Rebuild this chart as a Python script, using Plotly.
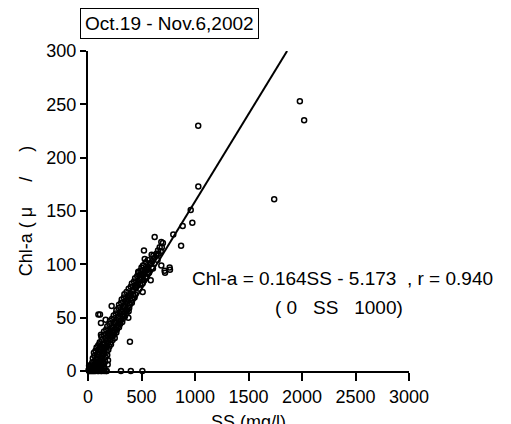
import plotly.graph_objects as go

# ---- data ----
ss_values = [
    # outliers / high values
    1030, 1980, 2020, 1740, 1031, 960, 975, 885, 797, 870, 623, 700, 685, 690, 670, 654, 640, 650,
    611, 595, 523, 530, 514, 592, 607, 685, 716, 763, 545, 498, 561, 483, 470, 564, 586, 523, 486,
    449, 511, 424, 393, 766, 720,
    # points on the zero line
    10, 19, 30, 40, 50, 60, 70, 90, 100, 120, 130, 150, 168, 175, 308, 400, 508,
    # low outliers
    97, 112, 121, 165, 221, 206, 392, 377, 184, 187, 106, 100, 121,
    # dense band, Chl 0-10
    5, 15, 25, 35, 45, 55, 65, 75, 85, 95, 105, 115, 125, 135, 145, 155, 30, 40, 50, 60, 70, 80,
    90, 100, 110, 120, 130, 140, 150, 160, 20, 10,
    # Chl 10-25
    45, 60, 75, 90, 105, 120, 135, 150, 165, 180, 55, 70, 85, 100, 115, 130, 145, 160, 175, 190,
    80, 95, 110, 125, 140, 155, 170, 185, 200, 215,
    # Chl 25-50
    110, 130, 150, 170, 190, 210, 230, 250, 125, 145, 165, 185, 205, 225, 245, 265, 150, 170, 190,
    210, 230, 250, 270, 290, 180, 200, 220, 240, 260, 280, 300, 320, 205, 225, 245, 265, 285, 305,
    325, 345,
    # Chl 50-75
    240, 260, 280, 300, 320, 340, 360, 380, 265, 285, 305, 325, 345, 365, 385, 290, 310, 330, 350,
    370, 390, 410, 315, 335, 355, 375, 395, 415, 435, 340, 360, 380, 400, 420, 440,
    # Chl 75-100
    380, 400, 420, 440, 460, 480, 410, 430, 450, 470, 490, 510, 440, 460, 480, 500, 520, 540, 470,
    490, 510, 530, 550, 570, 500, 520, 540, 560, 580, 600, 540, 560, 580, 600, 620, 640, 660, 680,
]
chla_values = [
    230, 253, 235, 161, 173, 151, 139, 136, 128, 117.5, 125.6, 120, 121, 116, 116, 113, 110, 104,
    108, 109, 113, 105, 99, 101, 96, 99, 94, 97, 88, 91, 93, 90, 93, 95, 85, 85, 81,
    78, 74, 71, 70, 95, 92,
    0, 0, 0, 0, 0, 0, 0, 0, 0, 0, 0, 0, 0, 0, 0, 0, 0,
    53, 53, 45, 48, 61, 33, 27.5, 50, 6, 10, 25, 15, 34,
    1, 2, 1, 3, 2, 4, 1, 3, 2, 5, 3, 2, 4, 1, 3, 2, 6, 8, 5, 9, 7, 10,
    8, 6, 9, 7, 10, 8, 6, 9, 4, 5,
    12, 14, 11, 13, 15, 12, 14, 16, 13, 15, 17, 19, 16, 18, 20, 17, 19, 21, 18, 20,
    22, 24, 21, 23, 25, 22, 24, 26, 23, 25,
    27, 29, 26, 28, 30, 27, 29, 31, 32, 34, 31, 33, 35, 32, 34, 36, 37, 39, 36,
    38, 40, 37, 39, 41, 42, 44, 41, 43, 45, 42, 44, 46, 47, 49, 46, 48, 50, 47,
    49, 51,
    52, 54, 51, 53, 55, 52, 54, 56, 57, 59, 56, 58, 60, 57, 59, 62, 64, 61, 63,
    65, 62, 64, 67, 69, 66, 68, 70, 67, 69, 72, 74, 71, 73, 75, 72,
    77, 79, 76, 78, 80, 77, 82, 84, 81, 83, 85, 82, 87, 89, 86, 88, 90, 87, 92,
    94, 91, 93, 95, 92, 97, 99, 96, 98, 100, 97, 102, 104, 101, 103, 106, 108, 110, 112,
]

fit_slope = 0.164
fit_intercept = -5.173
fit_r = 0.940

x_ticks = [0, 500, 1000, 1500, 2000, 2500, 3000]
y_ticks = [0, 50, 100, 150, 200, 250, 300]
x_range = [0, 3000]
y_range = [0, 300]

title_text = "Oct.19 - Nov.6,2002"
x_title = "SS (mg/l)"
y_title = "Chl-a ( \u03bc \u00a0 \u00a0 / \u00a0 \u00a0 )"
eq_line1 = "Chl-a = 0.164SS - 5.173 \u00a0, r = 0.940"
eq_line2 = "( 0 \u00a0 SS \u00a0 1000)"

FONT = "Liberation Sans, Arial, sans-serif"

line_x = [(y_range[0] - fit_intercept) / fit_slope, (y_range[1] - fit_intercept) / fit_slope]
line_y = [fit_slope * v + fit_intercept for v in line_x]

fig = go.Figure()
fig.add_trace(go.Scatter(
    x=line_x, y=line_y, mode="lines",
    line=dict(color="black", width=2), showlegend=False, hoverinfo="skip",
))
fig.add_trace(go.Scatter(
    x=ss_values, y=chla_values, mode="markers",
    marker=dict(symbol="circle-open", size=5, color="black", line=dict(color="black", width=1.5)),
    showlegend=False, cliponaxis=False,
))

fig.update_layout(
    width=511, height=424,
    margin=dict(l=80, r=110, t=43, b=61, autoexpand=False),
    paper_bgcolor="white", plot_bgcolor="white",
    font=dict(family=FONT, size=18, color="black"),
    xaxis=dict(
        range=x_range, tickvals=x_ticks, ticktext=[str(v) for v in x_ticks],
        showline=True, linecolor="black", linewidth=2, mirror=False,
        ticks="outside", ticklen=8, tickwidth=2, tickcolor="black",
        showgrid=False, zeroline=False, layer="below traces", automargin=False,
        tickfont=dict(size=18),
        title=dict(text=x_title, font=dict(size=18), standoff=20),
    ),
    yaxis=dict(
        range=y_range, tickvals=y_ticks, ticktext=[str(v) for v in y_ticks],
        showline=True, linecolor="black", linewidth=2, mirror=False,
        ticks="outside", ticklen=6, tickwidth=2, tickcolor="black",
        showgrid=False, zeroline=False, layer="below traces", automargin=False,
        tickfont=dict(size=18),
        title=dict(text=y_title, font=dict(size=18), standoff=9),
    ),
    annotations=[
        dict(text=title_text, xref="paper", yref="paper", x=0.255, y=1.0875,
             xanchor="center", yanchor="middle", showarrow=False,
             font=dict(size=19), bordercolor="black", borderwidth=1, borderpad=4,
             bgcolor="white"),
        dict(text=eq_line1, xref="paper", yref="paper", x=0.793, y=0.29,
             xanchor="center", yanchor="middle", showarrow=False, font=dict(size=19)),
        dict(text=eq_line2, xref="paper", yref="paper", x=0.783, y=0.20,
             xanchor="center", yanchor="middle", showarrow=False, font=dict(size=19)),
    ],
)

fig.write_html("out.html")
